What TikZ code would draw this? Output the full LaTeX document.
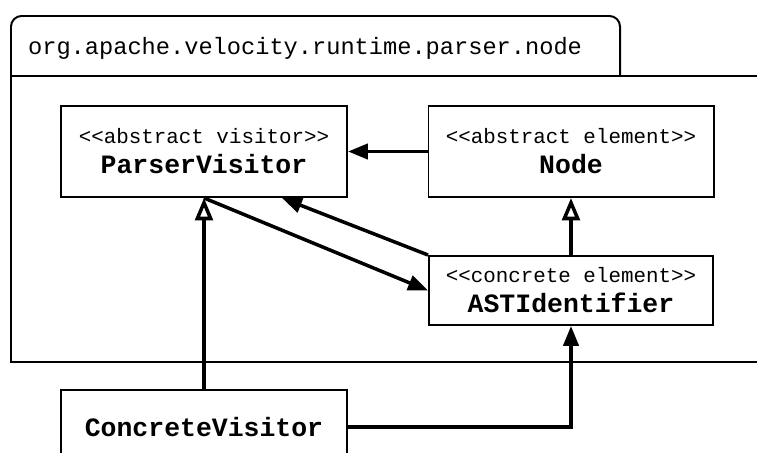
\documentclass[tikz,border=0pt]{standalone}
\usepackage{fontspec}
\setmainfont{Liberation Mono}[Ligatures=TeXOff]
\usetikzlibrary{arrows.meta}
\newcommand{\cname}[1]{{\fontsize{22.6}{25.6}\selectfont\bfseries #1}}
\begin{document}
\begin{tikzpicture}[x=0.03cm,y=-0.03cm,
    classbox/.style={draw,line width=1.7pt,align=center,inner sep=0pt,
        font=\fontsize{17.8}{25.6}\selectfont},
    fillarrow/.style={line width=3pt,-{Triangle[length=17pt,width=13pt]}},
    openarrow/.style={line width=3pt,-{Triangle[open,length=19pt,width=15pt]}}]
        \path[use as bounding box,clip] (0,0) rectangle (757,453);
        %Gói
        \draw[line width=1.7pt,rounded corners=9pt] (11,76)--(11,16)--(620,16)--(620,76);
        \draw[line width=1.7pt] (11,76) rectangle (790,362);
        \node[anchor=base west,font=\fontsize{20.2}{24}\selectfont] (pkg) at (24,55) {org.apache.velocity.runtime.parser.node};
        %Các lớp
        \node[classbox,minimum width=8.58cm,minimum height=2.73cm] (visitor) at (204,151.5)
            {<<abstract visitor>>\\\cname{ParserVisitor}};
        \node[classbox,minimum width=8.55cm,minimum height=2.73cm] (element) at (571,151.5)
            {<<abstract element>>\\\cname{Node}};
        \node[classbox,minimum width=8.52cm,minimum height=2.07cm] (ident) at (571,290.5)
            {<<concrete element>>\\\cname{ASTIdentifier}};
        \node[classbox,minimum width=8.58cm,minimum height=2.22cm] (concrete) at (204,427)
            {\cname{ConcreteVisitor}};
        %Mũi tên
        \draw[fillarrow] (element)--(visitor);
        \draw[openarrow] (ident)--(element);
        \draw[openarrow] (concrete)--(visitor);
        \draw[fillarrow] (visitor.south)--(ident.west);
        \draw[fillarrow] (ident.north west)--([xshift=2.34cm]visitor.south);
        \draw[fillarrow] (concrete)-|(ident);
\end{tikzpicture}
\end{document}
